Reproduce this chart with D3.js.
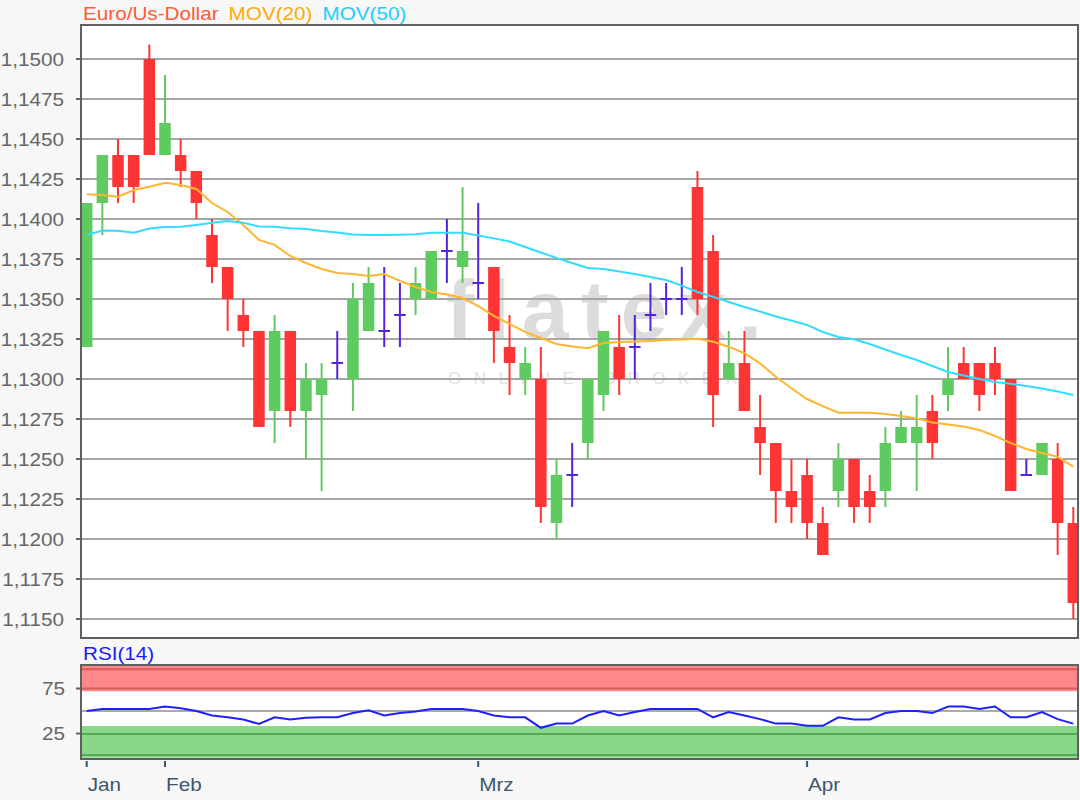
<!DOCTYPE html>
<html><head><meta charset="utf-8">
<script src="https://cdn.jsdelivr.net/npm/d3@7"></script>
<style>html,body{margin:0;padding:0;background:#f7f7f7;} svg{display:block}</style>
</head><body>
<svg id="c" width="1080" height="800"></svg>
<script>
// ---------- DATA ----------
const dates = ["2019-01-25","2019-01-28","2019-01-29","2019-01-30","2019-01-31",
"2019-02-01","2019-02-04","2019-02-05","2019-02-06","2019-02-07","2019-02-08",
"2019-02-11","2019-02-12","2019-02-13","2019-02-14","2019-02-15",
"2019-02-18","2019-02-19","2019-02-20","2019-02-21","2019-02-22",
"2019-02-25","2019-02-26","2019-02-27","2019-02-28",
"2019-03-01","2019-03-04","2019-03-05","2019-03-06","2019-03-07","2019-03-08",
"2019-03-11","2019-03-12","2019-03-13","2019-03-14","2019-03-15",
"2019-03-18","2019-03-19","2019-03-20","2019-03-21","2019-03-22",
"2019-03-25","2019-03-26","2019-03-27","2019-03-28","2019-03-29",
"2019-04-01","2019-04-02","2019-04-03","2019-04-04","2019-04-05",
"2019-04-08","2019-04-09","2019-04-10","2019-04-11","2019-04-12",
"2019-04-15","2019-04-16","2019-04-17","2019-04-18","2019-04-19",
"2019-04-22","2019-04-23","2019-04-24"];

const open  = [1.1320,1.1410,1.1440,1.1440,1.1500,1.1440,1.1440,1.1430,1.1390,1.1370,1.1340,
1.1330,1.1280,1.1330,1.1280,1.1290,1.1310,1.1300,1.1330,1.1330,1.1340,1.1350,1.1350,1.1380,1.1370,
1.1360,1.1370,1.1320,1.1300,1.1300,1.1210,1.1240,1.1260,1.1290,1.1320,1.1320,1.1340,1.1350,1.1350,
1.1420,1.1380,1.1300,1.1310,1.1270,1.1260,1.1230,1.1240,1.1210,1.1230,1.1250,1.1230,1.1230,1.1260,
1.1260,1.1280,1.1290,1.1310,1.1310,1.1310,1.1300,1.1240,1.1240,1.1250,1.1210];
const high  = [1.1410,1.1440,1.1450,1.1440,1.1509,1.1490,1.1450,1.1430,1.1400,1.1370,1.1350,
1.1330,1.1340,1.1330,1.1310,1.1310,1.1330,1.1360,1.1370,1.1370,1.1360,1.1370,1.1380,1.1400,1.1420,
1.1410,1.1370,1.1340,1.1320,1.1320,1.1250,1.1260,1.1300,1.1330,1.1340,1.1340,1.1360,1.1360,1.1370,
1.1430,1.1390,1.1330,1.1330,1.1290,1.1260,1.1250,1.1250,1.1220,1.1260,1.1250,1.1240,1.1270,1.1280,
1.1290,1.1290,1.1320,1.1320,1.1310,1.1320,1.1300,1.1250,1.1260,1.1260,1.1220];
const low   = [1.1320,1.1390,1.1410,1.1410,1.1440,1.1440,1.1420,1.1400,1.1360,1.1330,1.1320,
1.1270,1.1260,1.1270,1.1250,1.1230,1.1300,1.1280,1.1330,1.1320,1.1320,1.1340,1.1350,1.1360,1.1360,
1.1350,1.1310,1.1290,1.1290,1.1210,1.1200,1.1220,1.1250,1.1280,1.1290,1.1300,1.1330,1.1340,1.1340,
1.1340,1.1270,1.1300,1.1280,1.1240,1.1210,1.1210,1.1200,1.1190,1.1220,1.1210,1.1210,1.1220,1.1260,
1.1230,1.1250,1.1280,1.1300,1.1280,1.1290,1.1230,1.1240,1.1240,1.1190,1.1150];
const close = [1.1410,1.1440,1.1420,1.1420,1.1440,1.1460,1.1430,1.1410,1.1370,1.1350,1.1330,
1.1270,1.1330,1.1280,1.1300,1.1300,1.1310,1.1350,1.1360,1.1330,1.1340,1.1360,1.1380,1.1380,1.1380,
1.1360,1.1330,1.1310,1.1310,1.1220,1.1240,1.1240,1.1300,1.1330,1.1300,1.1320,1.1340,1.1350,1.1350,
1.1350,1.1290,1.1310,1.1280,1.1260,1.1230,1.1220,1.1210,1.1190,1.1250,1.1220,1.1220,1.1260,1.1270,
1.1270,1.1260,1.1300,1.1300,1.1290,1.1300,1.1230,1.1240,1.1260,1.1210,1.1160];

const mov20 = [1.14154,1.1415,1.14139,1.14181,1.14202,1.14227,1.14213,1.14188,1.1410,1.14044,
1.13963,1.13869,1.13838,1.13769,1.13725,1.13688,1.13663,1.13656,1.13644,1.13656,1.13613,1.13575,
1.13544,1.13528,1.13506,1.13456,1.13394,1.13344,1.13294,1.13256,1.13219,1.13203,1.13192,1.13225,
1.13231,1.13234,1.13238,1.13244,1.13247,1.13252,1.13233,1.13202,1.13161,1.13098,1.13014,1.12942,
1.12875,1.12831,1.12789,1.12789,1.12789,1.12781,1.12769,1.12754,1.12728,1.12716,1.12703,1.12681,
1.12644,1.1260,1.12563,1.12538,1.12514,1.12452];
const mov50 = [1.1390,1.13928,1.13927,1.13914,1.13941,1.1395,1.13952,1.13963,1.13976,1.13988,
1.13977,1.13953,1.13952,1.13942,1.13938,1.13925,1.13916,1.13903,1.1390,1.1390,1.13902,1.13904,
1.13914,1.13914,1.13914,1.13897,1.13879,1.13859,1.13825,1.13791,1.13756,1.13725,1.13694,1.13688,
1.13672,1.13656,1.13638,1.13619,1.13584,1.13544,1.13513,1.13481,1.1345,1.13422,1.13391,1.13366,
1.13338,1.13294,1.13263,1.13248,1.13219,1.13184,1.1315,1.13119,1.13081,1.13044,1.13022,1.1300,
1.12981,1.12971,1.12956,1.12941,1.12922,1.1290];
const rsi = [50,52.3,52.3,52.3,52.3,55,53,50,45,43,40.5,35.6,43,40.6,42.6,43,43,47.7,50.8,45,
47.7,49.5,52.3,52.3,52.3,50,45,43,43,31.3,36,36,45,50,45,48.8,52.3,52.3,52.3,52.3,43,48.8,45,41,
36,36,33.6,33.6,43,40.6,40.6,47.7,50,50,47.7,55,55,52.3,55,43,43,48.8,41,36];

const yTicks = [1.1150,1.1175,1.1200,1.1225,1.1250,1.1275,1.1300,1.1325,1.1350,1.1375,1.1400,1.1425,1.1450,1.1475,1.1500];
const monthTickIndex = [0,5,25,46];
const monthTickLabels = ["Jan","Feb","Mrz","Apr"];
const rsiTicks = [25,75];
const legendLabels = ["Euro/Us-Dollar","MOV(20)","MOV(50)"];
const rsiLabel = "RSI(14)";
const watermarkMain = "flatex.";
const watermarkSub = "ONLINE BROKER";

// ---------- LAYOUT ----------
const L = 81, R = 1078, T = 25, B = 638;
const RT = 665, RB = 759;
const FONT = "Arial, 'Liberation Sans', sans-serif";
const SX = 1.15;
const col = {green:"#5fca5f", red:"#ff3535", doji:"#5522dd", mov20:"#ffb52e", mov50:"#33dcff",
  grid:"#a6a6a6", frame:"#606060", ylab:"#666666", xlab:"#3d566e"};

const svg = d3.select("#c");
const x = d3.scaleLinear().domain([0, dates.length - 1]).range([86.7, 1073.3]);
const y = d3.scaleLinear().domain([1.115, 1.15]).range([619, 59]);
const yr = d3.scaleLinear().domain([25, 75]).range([733.5, 688.5]);

function sText(g, str, tx, ty, fill, anchor) {
  return g.append("text").attr("transform", `translate(${tx},${ty}) scale(${SX},1)`)
    .attr("text-anchor", anchor || "start").attr("font-family", FONT).attr("font-size", 18)
    .attr("fill", fill).text(str);
}

// background
svg.append("rect").attr("width",1080).attr("height",800).attr("fill","#f7f7f7");

// ---------- MAIN PANEL ----------
svg.append("rect").attr("x",L).attr("y",T).attr("width",R-L).attr("height",B-T).attr("fill","#fff");
svg.append("defs").append("clipPath").attr("id","clipMain").append("rect")
  .attr("x",L).attr("y",T).attr("width",R-L).attr("height",B-T);

// watermark
const wm = svg.append("g");
wm.append("text").attr("x",446).attr("y",339).attr("font-family",FONT).attr("font-size",84)
  .attr("font-weight","bold")
  .attr("fill","#dcdcdc").attr("textLength",316).attr("lengthAdjust","spacing").text(watermarkMain);
wm.append("text").attr("x",448).attr("y",384).attr("font-family",FONT).attr("font-size",17)
  .attr("fill","#e2e2e2").attr("textLength",290).attr("lengthAdjust","spacing").text(watermarkSub);

// grid
svg.append("g").selectAll("line").data(yTicks).join("line")
  .attr("x1",L).attr("x2",R).attr("y1",d=>y(d)).attr("y2",d=>y(d))
  .attr("stroke",col.grid).attr("stroke-width",2);

// candles
const candles = d3.range(dates.length).map(i => ({i, o:open[i], h:high[i], l:low[i], c:close[i]}));
const cg = svg.append("g").attr("clip-path","url(#clipMain)");
const bw = 11.5;
candles.forEach(d => {
  const color = d.c > d.o ? col.green : (d.c < d.o ? col.red : col.doji);
  const cx = x(d.i);
  cg.append("line").attr("x1",cx).attr("x2",cx).attr("y1",y(d.h)).attr("y2",y(d.l))
    .attr("stroke",color).attr("stroke-width",2);
  if (d.c !== d.o) {
    const top = y(Math.max(d.o,d.c)), bot = y(Math.min(d.o,d.c));
    cg.append("rect").attr("x",cx-bw/2).attr("y",top).attr("width",bw).attr("height",Math.max(1,bot-top))
      .attr("fill",color);
  } else {
    cg.append("line").attr("x1",cx-bw/2).attr("x2",cx+bw/2).attr("y1",y(d.c)).attr("y2",y(d.c))
      .attr("stroke",color).attr("stroke-width",2);
  }
});

// moving averages
const lineGen = arr => d3.line().x((d,i)=>x(i)).y(d=>y(d))(arr);
cg.append("path").attr("d",lineGen(mov20)).attr("fill","none").attr("stroke",col.mov20).attr("stroke-width",2);
cg.append("path").attr("d",lineGen(mov50)).attr("fill","none").attr("stroke",col.mov50).attr("stroke-width",2);

// frame
svg.append("rect").attr("x",L).attr("y",T).attr("width",R-L).attr("height",B-T)
  .attr("fill","none").attr("stroke",col.frame).attr("stroke-width",2);

// y axis
const ya = svg.append("g");
yTicks.forEach(v => {
  ya.append("line").attr("x1",L-5).attr("x2",L).attr("y1",y(v)).attr("y2",y(v))
    .attr("stroke",col.frame).attr("stroke-width",2);
  sText(ya, d3.format(".4f")(v).replace(".",","), 64, y(v)+6.5, col.ylab, "end");
});

// legend
let lx = 83;
const legColors = ["#ff5a36", "#ffaa00", "#22ccff"];
legendLabels.forEach((t,k) => {
  const el = sText(svg, t, lx, 20, legColors[k], "start");
  lx += el.node().getComputedTextLength()*SX + 10;
});

// ---------- RSI PANEL ----------
svg.append("rect").attr("x",L).attr("y",RT).attr("width",R-L).attr("height",RB-RT).attr("fill","#fff");
svg.append("rect").attr("x",L).attr("y",yr(101)).attr("width",R-L).attr("height",yr(72)-yr(101)).attr("fill","#ff8888");
svg.append("rect").attr("x",L).attr("y",yr(33.3)).attr("width",R-L).attr("height",yr(-2)-yr(33.3)).attr("fill","#88d888");
[[96.5,"#d95c5c"],[75,"#d95c5c"],[24.4,"#58a858"],[1,"#58a858"],[50,"#aaaaaa"]].forEach(([v,c]) => {
  svg.append("line").attr("x1",L).attr("x2",R).attr("y1",yr(v)).attr("y2",yr(v)).attr("stroke",c).attr("stroke-width",2);
});
svg.append("path").attr("d", d3.line().x((d,i)=>x(i)).y(d=>yr(d))(rsi))
  .attr("fill","none").attr("stroke","#1f1fff").attr("stroke-width",2);
svg.append("rect").attr("x",L).attr("y",RT).attr("width",R-L).attr("height",RB-RT)
  .attr("fill","none").attr("stroke",col.frame).attr("stroke-width",2);
rsiTicks.forEach(v => {
  svg.append("line").attr("x1",L-5).attr("x2",L).attr("y1",yr(v)).attr("y2",yr(v))
    .attr("stroke",col.frame).attr("stroke-width",2);
  sText(svg, String(v), 65, yr(v)+6.5, col.ylab, "end");
});
sText(svg, rsiLabel, 83, 660, "#1a1aff", "start");

// x axis
monthTickIndex.forEach((idx,k) => {
  svg.append("line").attr("x1",x(idx)).attr("x2",x(idx)).attr("y1",761).attr("y2",767)
    .attr("stroke",col.xlab).attr("stroke-width",2);
  sText(svg, monthTickLabels[k], x(idx)+1, 791, col.xlab, "start");
});
</script>
</body></html>
